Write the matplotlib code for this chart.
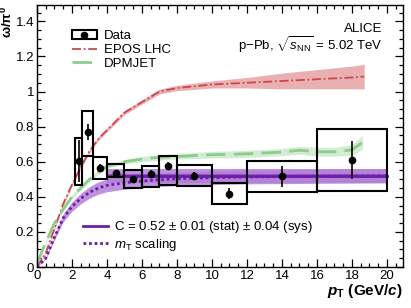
import matplotlib
matplotlib.use("Agg")
import matplotlib.pyplot as plt
import numpy as np
from matplotlib.patches import Rectangle
from matplotlib.lines import Line2D
from matplotlib.ticker import MultipleLocator

plt.rcParams['font.family'] = ['Liberation Sans', 'DejaVu Sans']
plt.rcParams['mathtext.fontset'] = 'custom'
plt.rcParams['mathtext.rm'] = 'Liberation Sans'
plt.rcParams['mathtext.it'] = 'Liberation Sans:italic'
plt.rcParams['mathtext.bf'] = 'Liberation Sans:bold'
plt.rcParams['mathtext.bfit'] = 'Liberation Sans:bold:italic'

# ---- data ----
pt = [2.42, 2.93, 3.6, 4.5, 5.5, 6.5, 7.5, 9.0, 11.0, 14.0, 18.0]
ratio = [0.604, 0.769, 0.564, 0.534, 0.500, 0.530, 0.575, 0.520, 0.418, 0.517, 0.610]
stat = [0.12, 0.045, 0.024, 0.02, 0.02, 0.02, 0.025, 0.022, 0.033, 0.06, 0.11]
bin_lo = [2.2, 2.6, 3.2, 4.0, 5.0, 6.0, 7.0, 8.0, 10.0, 12.0, 16.0]
bin_hi = [2.6, 3.2, 4.0, 5.0, 6.0, 7.0, 8.0, 10.0, 12.0, 16.0, 20.0]
sys_lo = [0.465, 0.634, 0.501, 0.511, 0.450, 0.456, 0.469, 0.463, 0.359, 0.426, 0.433]
sys_hi = [0.737, 0.887, 0.628, 0.589, 0.553, 0.575, 0.631, 0.580, 0.477, 0.606, 0.785]

epos_x = [0, 0.5, 1, 1.5, 2, 2.5, 3, 3.5, 4, 5, 6, 7, 8, 9, 10, 12, 14, 16, 18, 18.7]
epos_y = [0.0, 0.08, 0.22, 0.36, 0.47, 0.57, 0.66, 0.73, 0.78, 0.88, 0.94, 1.0, 1.02, 1.03, 1.04, 1.05, 1.06, 1.07, 1.08, 1.085]
epos_err = [0.005, 0.005, 0.008, 0.008, 0.01, 0.01, 0.01, 0.01, 0.01, 0.012, 0.012, 0.014, 0.015, 0.018, 0.02, 0.03, 0.045, 0.055, 0.065, 0.07]

dpm_x = [0, 0.5, 1, 1.5, 2, 2.5, 3, 3.5, 4, 5, 6, 7, 8, 9, 10, 11, 12, 13, 14, 15, 16, 17, 18, 18.6]
dpm_y = [0.02, 0.14, 0.25, 0.33, 0.40, 0.45, 0.50, 0.54, 0.575, 0.60, 0.615, 0.625, 0.63, 0.635, 0.64, 0.642, 0.645, 0.65, 0.655, 0.665, 0.657, 0.657, 0.667, 0.71]
dpm_err = [0.008, 0.01, 0.01, 0.01, 0.012, 0.012, 0.012, 0.012, 0.012, 0.012, 0.015, 0.015, 0.015, 0.018, 0.018, 0.02, 0.02, 0.02, 0.02, 0.022, 0.025, 0.025, 0.03, 0.04]

mt_x = [0, 0.5, 1, 1.5, 2, 2.5, 3, 3.5, 4, 5, 6, 7, 8, 10, 12, 14, 16, 18, 20]
mt_y = [0.0, 0.05, 0.17, 0.28, 0.345, 0.39, 0.425, 0.45, 0.465, 0.48, 0.49, 0.497, 0.503, 0.509, 0.513, 0.515, 0.517, 0.518, 0.519]
mt_err = [0.0, 0.004, 0.013, 0.022, 0.027, 0.03, 0.033, 0.035, 0.036, 0.037, 0.038, 0.038, 0.039, 0.039, 0.039, 0.04, 0.04, 0.04, 0.04]

c_val = 0.52
c_stat = 0.01
c_sys = 0.04
c_range = [4.0, 20.0]

fig = plt.figure(figsize=(4.11, 3.08), dpi=100)
ax = fig.add_axes([37/411, 1-267/308, (402.7-37)/411, (267-5)/308])

red = '#d0464a'
red_band = '#e6a3a5'
green = '#8ccc8c'
green_band = '#cfeacf'
purple = '#6a1fa8'
purple_band = '#b47fd6'

# EPOS
ax.fill_between(epos_x, np.array(epos_y) - np.array(epos_err), np.array(epos_y) + np.array(epos_err),
                color=red_band, lw=0, alpha=0.85, zorder=1)
ax.plot(epos_x, epos_y, color=red, lw=1.3, ls=(0, (5, 1.5, 1, 1.5)), zorder=2)
# DPMJET
ax.fill_between(dpm_x, np.array(dpm_y) - np.array(dpm_err), np.array(dpm_y) + np.array(dpm_err),
                color=green_band, lw=0, alpha=0.9, zorder=1)
ax.plot(dpm_x, dpm_y, color=green, lw=2.0, ls=(0, (7, 3)), zorder=2)
# mT scaling band
ax.fill_between(mt_x, np.array(mt_y) - np.array(mt_err), np.array(mt_y) + np.array(mt_err),
                color=purple_band, lw=0, alpha=0.85, zorder=1)
# constant fit
ax.fill_between(c_range, [c_val - c_sys]*2, [c_val + c_sys]*2, color=purple_band, lw=0, alpha=0.85, zorder=1)
ax.fill_between(c_range, [c_val - c_stat]*2, [c_val + c_stat]*2, color='#8e4cc0', lw=0, alpha=0.9, zorder=1.5)
ax.plot(c_range, [c_val]*2, color=purple, lw=2.0, zorder=2)
ax.plot(mt_x, mt_y, color=purple, lw=2.0, ls=(0, (1, 1)), zorder=2.5)

# data boxes
for lo, hi, a, b in zip(bin_lo, bin_hi, sys_lo, sys_hi):
    ax.add_patch(Rectangle((lo, a), hi - lo, b - a, fill=False, ec='black', lw=1.5, zorder=3))
ax.errorbar(pt, ratio, yerr=stat, fmt='o', color='black', ms=4.5, elinewidth=1.2, capsize=0, zorder=4)

ax.set_xlim(0, 20.9)
ax.set_ylim(0, 1.493)
ax.xaxis.set_minor_locator(MultipleLocator(0.5))
ax.yaxis.set_minor_locator(MultipleLocator(0.05))
ax.set_yticks([0, 0.2, 0.4, 0.6, 0.8, 1.0, 1.2, 1.4])
ax.set_yticklabels(['0', '0.2', '0.4', '0.6', '0.8', '1', '1.2', '1.4'])
ax.set_xticks(range(0, 21, 2))
ax.set_xticklabels([str(v) for v in range(0, 21, 2)])
ax.tick_params(which='both', direction='in', top=True, right=True, labelsize=9.5, width=0.9, pad=2)
ax.tick_params(which='major', length=6)
ax.tick_params(which='minor', length=3)
for s in ax.spines.values():
    s.set_linewidth(1.0)

fig.text(7.8/411, 1-6/308, r'$\mathbf{\omega/\pi^{0}}$', fontsize=9.5, rotation=90, ha='center', va='top')
ax.set_xlabel(r'$\mathbfit{p}_{\mathbf{T}}$ (GeV/$\mathbfit{c}$)', fontsize=11, fontweight='bold', loc='right', labelpad=0)

ax.text(0.945, 0.908, 'ALICE', transform=ax.transAxes, ha='right', va='center', fontsize=9.5)
ax.text(0.945, 0.847, r'p$-$Pb, $\sqrt{s_{\mathrm{NN}}}$ = 5.02 TeV', transform=ax.transAxes, ha='right', va='center', fontsize=9.5)

h_data = (Rectangle((0, 0), 1, 1, fill=False, ec='black', lw=1.5),
          Line2D([], [], marker='o', color='black', ls='none', ms=4.5))
h_epos = Line2D([], [], color=red, lw=1.3, ls=(0, (5, 1.5, 1, 1.5)))
h_dpm = Line2D([], [], color=green, lw=2.0, ls=(0, (7, 3)))
leg1 = ax.legend([h_data, h_epos, h_dpm], ['Data', 'EPOS LHC', 'DPMJET'],
                 loc='upper left', bbox_to_anchor=(0.07, 0.939), frameon=False, fontsize=9.5,
                 handlelength=1.9, handletextpad=0.5, labelspacing=0.12, borderpad=0.2)
ax.add_artist(leg1)
h_c = Line2D([], [], color=purple, lw=2.0)
h_mt = Line2D([], [], color=purple, lw=2.0, ls=(0, (1, 1)))
ax.legend([h_c, h_mt], [r'C = 0.52 $\pm$ 0.01 (stat) $\pm$ 0.04 (sys)', r'$m_{\mathrm{T}}$ scaling'],
          loc='upper left', bbox_to_anchor=(0.1, 0.218), frameon=False, fontsize=9.5,
          handlelength=1.9, handletextpad=0.5, labelspacing=0.12, borderpad=0.2)

fig.savefig('out.png', dpi=100)
